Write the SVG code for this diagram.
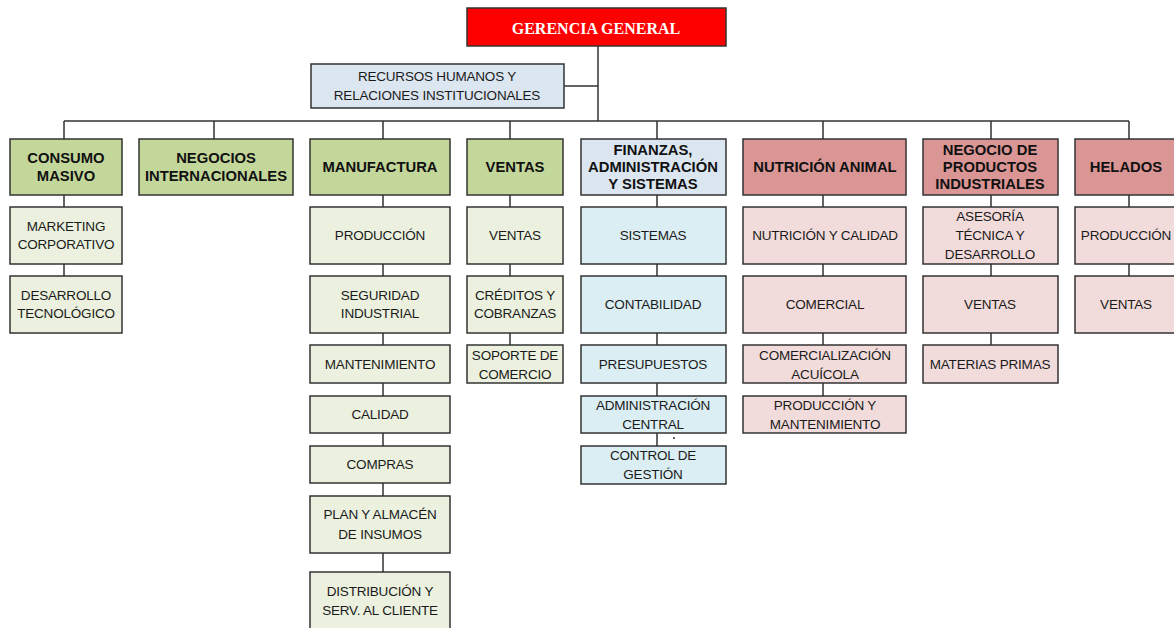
<svg xmlns="http://www.w3.org/2000/svg" width="1174" height="628" viewBox="0 0 1174 628">
<style>
.bx{stroke:#333;stroke-width:1.5}
.top{fill:#ff0000}
.g1{fill:#c4d79b}.g2{fill:#ebf1de}
.b1{fill:#dce6f1}.b2{fill:#daeef3}
.r1{fill:#da9694}.r2{fill:#f2dcdb}
.t1{font-family:"Liberation Sans",Arial,sans-serif;font-weight:bold;font-size:14.8px;fill:#111;text-anchor:middle;dominant-baseline:central}
.t2{font-family:"Liberation Sans",Arial,sans-serif;font-size:13.5px;fill:#1a1a1a;text-anchor:middle;dominant-baseline:central;letter-spacing:-0.2px}
.tg{font-family:"Liberation Serif","Times New Roman",serif;font-weight:bold;font-size:16px;fill:#fff;text-anchor:middle;dominant-baseline:central}
.ln{stroke:#333;stroke-width:1.5;fill:none}
</style>
<rect width="1174" height="628" fill="#fff"/>
<g id="connectors">
<path class="ln" d="M598 46V121M564 86H598M64 121H1129"/>
<path class="ln" d="M64 121V276M214 121V139M383 121V572M510 121V345M657 121V446M823 121V396M991 121V345M1129 121V276"/>
<path class="ln" d="M673 438h2" stroke-width="1"/>
</g>
<g id="gerencia"><rect class="bx top" x="467" y="8" width="259" height="38"/><text class="tg" x="596" y="28">GERENCIA GENERAL</text></g>
<g id="rrhh"><rect class="bx b1" x="311" y="64" width="253" height="44"/><text class="t2" x="437" y="76">RECURSOS HUMANOS Y</text><text class="t2" x="437" y="95">RELACIONES INSTITUCIONALES</text></g>

<g id="consumo"><rect class="bx g1" x="10" y="139" width="112" height="56"/><text class="t1" x="66" y="158">CONSUMO</text><text class="t1" x="66" y="176">MASIVO</text></g>
<g id="negocios"><rect class="bx g1" x="139" y="139" width="154" height="56"/><text class="t1" x="216" y="158">NEGOCIOS</text><text class="t1" x="216" y="176">INTERNACIONALES</text></g>
<g id="manufactura"><rect class="bx g1" x="310" y="139" width="140" height="56"/><text class="t1" x="380" y="167">MANUFACTURA</text></g>
<g id="ventas"><rect class="bx g1" x="467" y="139" width="96" height="56"/><text class="t1" x="515" y="167">VENTAS</text></g>
<g id="finanzas"><rect class="bx b1" x="581" y="139" width="145" height="56"/><text class="t1" x="653" y="150">FINANZAS,</text><text class="t1" x="653" y="167">ADMINISTRACIÓN</text><text class="t1" x="653" y="184">Y SISTEMAS</text></g>
<g id="nutricion"><rect class="bx r1" x="743" y="139" width="163" height="56"/><text class="t1" x="825" y="167">NUTRICIÓN ANIMAL</text></g>
<g id="industriales"><rect class="bx r1" x="923" y="139" width="135" height="56"/><text class="t1" x="990" y="150">NEGOCIO DE</text><text class="t1" x="990" y="167">PRODUCTOS</text><text class="t1" x="990" y="184">INDUSTRIALES</text></g>
<g id="helados"><rect class="bx r1" x="1075" y="139" width="105" height="56"/><text class="t1" x="1126" y="167">HELADOS</text></g>

<g id="marketing"><rect class="bx g2" x="10" y="207" width="112" height="57"/><text class="t2" x="66" y="226">MARKETING</text><text class="t2" x="66" y="244">CORPORATIVO</text></g>
<g id="desarrollo-tec"><rect class="bx g2" x="10" y="276" width="112" height="57"/><text class="t2" x="66" y="295">DESARROLLO</text><text class="t2" x="66" y="313">TECNOLÓGICO</text></g>

<g id="produccion-man"><rect class="bx g2" x="310" y="207" width="140" height="57"/><text class="t2" x="380" y="235">PRODUCCIÓN</text></g>
<g id="seguridad"><rect class="bx g2" x="310" y="276" width="140" height="57"/><text class="t2" x="380" y="295">SEGURIDAD</text><text class="t2" x="380" y="313">INDUSTRIAL</text></g>
<g id="mantenimiento"><rect class="bx g2" x="310" y="345" width="140" height="38"/><text class="t2" x="380" y="364">MANTENIMIENTO</text></g>
<g id="calidad"><rect class="bx g2" x="310" y="396" width="140" height="37"/><text class="t2" x="380" y="414">CALIDAD</text></g>
<g id="compras"><rect class="bx g2" x="310" y="446" width="140" height="37"/><text class="t2" x="380" y="464">COMPRAS</text></g>
<g id="plan"><rect class="bx g2" x="310" y="496" width="140" height="57"/><text class="t2" x="380" y="514">PLAN Y ALMACÉN</text><text class="t2" x="380" y="534">DE INSUMOS</text></g>
<g id="distribucion"><rect class="bx g2" x="310" y="572" width="140" height="60"/><text class="t2" x="380" y="591">DISTRIBUCIÓN Y</text><text class="t2" x="380" y="610">SERV. AL CLIENTE</text></g>

<g id="ventas-v"><rect class="bx g2" x="467" y="207" width="96" height="57"/><text class="t2" x="515" y="235">VENTAS</text></g>
<g id="creditos"><rect class="bx g2" x="467" y="276" width="96" height="57"/><text class="t2" x="515" y="295">CRÉDITOS Y</text><text class="t2" x="515" y="313">COBRANZAS</text></g>
<g id="soporte"><rect class="bx g2" x="467" y="345" width="96" height="38"/><text class="t2" x="515" y="355">SOPORTE DE</text><text class="t2" x="515" y="374">COMERCIO</text></g>

<g id="sistemas"><rect class="bx b2" x="581" y="207" width="145" height="57"/><text class="t2" x="653" y="235">SISTEMAS</text></g>
<g id="contabilidad"><rect class="bx b2" x="581" y="276" width="145" height="57"/><text class="t2" x="653" y="304">CONTABILIDAD</text></g>
<g id="presupuestos"><rect class="bx b2" x="581" y="345" width="145" height="38"/><text class="t2" x="653" y="364">PRESUPUESTOS</text></g>
<g id="admin-central"><rect class="bx b2" x="581" y="396" width="145" height="37"/><text class="t2" x="653" y="405">ADMINISTRACIÓN</text><text class="t2" x="653" y="424">CENTRAL</text></g>
<g id="control"><rect class="bx b2" x="581" y="446" width="145" height="38"/><text class="t2" x="653" y="455">CONTROL DE</text><text class="t2" x="653" y="474">GESTIÓN</text></g>

<g id="nutricion-calidad"><rect class="bx r2" x="743" y="207" width="163" height="57"/><text class="t2" x="825" y="235">NUTRICIÓN Y CALIDAD</text></g>
<g id="comercial"><rect class="bx r2" x="743" y="276" width="163" height="57"/><text class="t2" x="825" y="304">COMERCIAL</text></g>
<g id="acuicola"><rect class="bx r2" x="743" y="345" width="163" height="38"/><text class="t2" x="825" y="355">COMERCIALIZACIÓN</text><text class="t2" x="825" y="374">ACUÍCOLA</text></g>
<g id="prod-mant"><rect class="bx r2" x="743" y="396" width="163" height="37"/><text class="t2" x="825" y="405">PRODUCCIÓN Y</text><text class="t2" x="825" y="424">MANTENIMIENTO</text></g>

<g id="asesoria"><rect class="bx r2" x="923" y="207" width="135" height="57"/><text class="t2" x="990" y="216">ASESORÍA</text><text class="t2" x="990" y="235">TÉCNICA Y</text><text class="t2" x="990" y="254">DESARROLLO</text></g>
<g id="ventas-ind"><rect class="bx r2" x="923" y="276" width="135" height="57"/><text class="t2" x="990" y="304">VENTAS</text></g>
<g id="materias"><rect class="bx r2" x="923" y="345" width="135" height="38"/><text class="t2" x="990" y="364">MATERIAS PRIMAS</text></g>

<g id="produccion-hel"><rect class="bx r2" x="1075" y="207" width="105" height="57"/><text class="t2" x="1126" y="235">PRODUCCIÓN</text></g>
<g id="ventas-hel"><rect class="bx r2" x="1075" y="276" width="105" height="57"/><text class="t2" x="1126" y="304">VENTAS</text></g>
</svg>
